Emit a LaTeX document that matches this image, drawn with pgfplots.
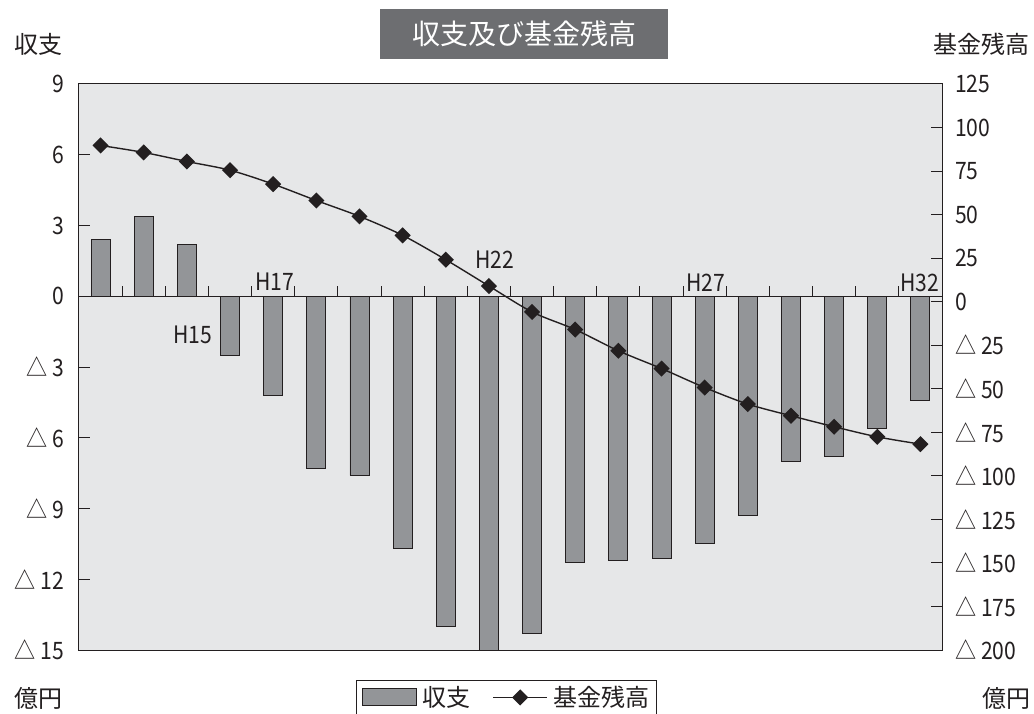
\documentclass[border=0pt]{standalone}
\usepackage{pgfplots}
\pgfplotsset{compat=1.18}
\usepackage{fontspec}
\setmainfont{Noto Sans CJK JP}
\newfontfamily\narrowfont[FakeStretch=0.88]{Noto Sans CJK JP}
\definecolor{plotbg}{HTML}{E6E7E8}
\definecolor{barfill}{HTML}{939598}
\definecolor{titlebg}{HTML}{6D6E71}
\definecolor{ink}{HTML}{231F20}
\newcommand{\labfont}{\fontsize{24}{28}\selectfont\narrowfont}
\newcommand{\jpfont}{\fontsize{24}{28}\selectfont}

\pgfplotsset{
  box legend/.style={legend image code/.code={
    \draw[fill=barfill, draw=ink, line width=1pt] (0pt,-8.5pt) rectangle (54pt,8.5pt);}},
  diamond line legend/.style={legend image code/.code={
    \draw[mark repeat=2, mark phase=2, ##1] plot coordinates {(0pt,0pt) (27pt,0pt) (54pt,0pt)};}},
}

\begin{document}
\begin{tikzpicture}[x=1pt,y=1pt]
\useasboundingbox (0,0) rectangle (1034,713);

% 収支 (left scale, bars)
\begin{axis}[
  at={(79pt,63pt)}, anchor=south west,
  scale only axis, width=863pt, height=566pt,
  xmin=-0.5, xmax=19.5, ymin=-15, ymax=9,
  xtick=\empty,
  ytick={-15,-12,...,9},
  yticklabels={△ 15,△ 12,△ 9,△ 6,△ 3,0,3,6,9},
  ytick pos=left, tick align=inside,
  major tick length=11pt,
  yticklabel style={font=\labfont, text=ink, anchor=east, inner sep=0pt, xshift=-15pt},
  axis background/.style={fill=plotbg},
  axis line style={draw=ink, line width=1pt},
  major tick style={draw=ink, line width=1pt},
]
\addplot[ybar, bar width=19pt, fill=barfill, draw=ink, line width=0.9pt]
  coordinates {
    (0,2.4) (1,3.4) (2,2.2) (3,-2.5) (4,-4.2)
    (5,-7.3) (6,-7.6) (7,-10.7) (8,-14.0) (9,-15.0)
    (10,-14.3) (11,-11.3) (12,-11.2) (13,-11.1) (14,-10.5)
    (15,-9.3) (16,-7.0) (17,-6.8) (18,-5.6) (19,-4.4)
  };
% zero line with year separators
\draw[ink, line width=1pt] (axis cs:-0.5,0) -- (axis cs:19.5,0);
\pgfplotsinvokeforeach{0,...,18}{
  \draw[ink, line width=1pt] (axis cs:#1.5,0) -- ++(0pt,10pt);
}
\node[font=\labfont, text=ink] at (axis cs:2.14,-1.64) {H15};
\node[font=\labfont, text=ink] at (axis cs:4.03,0.60) {H17};
\node[font=\labfont, text=ink] at (axis cs:9.14,1.54) {H22};
\node[font=\labfont, text=ink] at (axis cs:14.03,0.56) {H27};
\node[font=\labfont, text=ink] at (axis cs:18.99,0.56) {H32};
\end{axis}

% 基金残高 (right scale, line)
\begin{axis}[
  at={(79pt,63pt)}, anchor=south west,
  scale only axis, width=863pt, height=566pt,
  xmin=-0.5, xmax=19.5, ymin=-200, ymax=125,
  hide x axis,
  axis y line*=right,
  ytick={-200,-175,...,125},
  yticklabels={△ 200,△ 175,△ 150,△ 125,△ 100,△ 75,△ 50,△ 25,0,25,50,75,100,125},
  tick align=inside, major tick length=11pt,
  yticklabel style={font=\labfont, text=ink, anchor=west, inner sep=0pt, xshift=13pt},
  axis line style={draw=ink, line width=1pt},
  major tick style={draw=ink, line width=1pt},
  legend columns=2,
  legend style={
    at={(axis description cs:0.321,-0.053)}, anchor=north west,
    draw=ink, fill=white, line width=1pt, font=\jpfont, text=ink,
    inner xsep=5pt, inner ysep=4pt,
    /tikz/every odd column/.append style={column sep=4pt},
    /tikz/every even column/.append style={column sep=20pt},
  },
]
\addlegendimage{box legend}
\addlegendentry{収支}
\addplot[ink, line width=1.4pt, smooth, tension=0.5,
  mark=square*, mark size=5pt, mark options={rotate=45, solid, fill=ink},
  diamond line legend]
  coordinates {
    (0,89.7) (1,85.7) (2,80.5) (3,75.5) (4,67.5)
    (5,58.1) (6,49.0) (7,38.1) (8,24.1) (9,9.0)
    (10,-5.9) (11,-16.0) (12,-28.2) (13,-38.4) (14,-49.3)
    (15,-58.8) (16,-65.5) (17,-71.8) (18,-77.6) (19,-81.8)
  };
\addlegendentry{基金残高}
\end{axis}

\node[fill=titlebg, text=white, minimum width=288pt, minimum height=50pt, inner sep=0pt,
  font=\fontsize{28}{32}\selectfont] at (524,679) {収支及び基金残高};
\node[font=\jpfont, text=ink] at (39,669) {収支};
\node[font=\jpfont, text=ink] at (981.5,669) {基金残高};
\node[font=\jpfont, text=ink] at (38,15) {億円};
\node[font=\jpfont, text=ink] at (1006,15) {億円};
\end{tikzpicture}
\end{document}
